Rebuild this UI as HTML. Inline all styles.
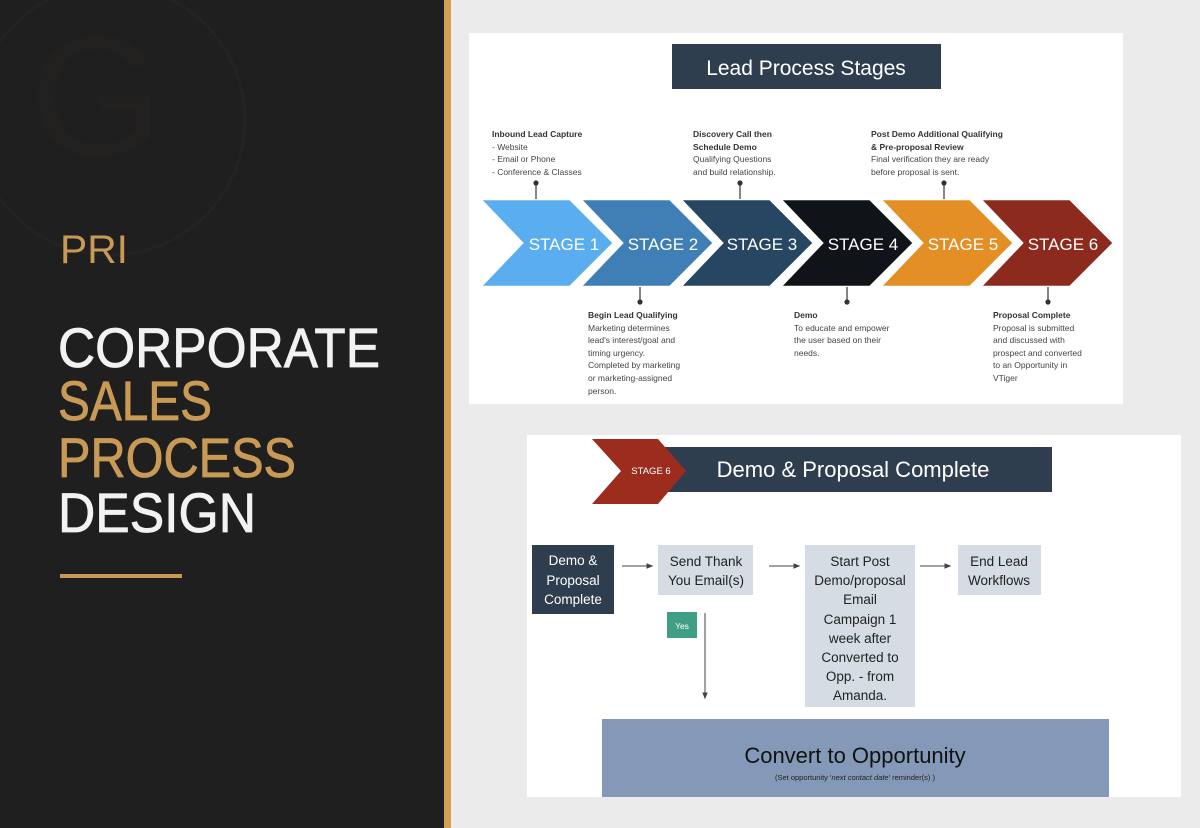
<!DOCTYPE html>
<html><head><meta charset="utf-8"><style>
html,body{margin:0;padding:0;width:1200px;height:828px;overflow:hidden;background:#ebebeb}
svg{display:block}
text{font-family:"Liberation Sans",sans-serif}
</style></head><body>
<svg width="1200" height="828" viewBox="0 0 1200 828" xmlns="http://www.w3.org/2000/svg">
<rect x="0" y="0" width="1200" height="828" fill="#ebebeb"/>
<rect x="0" y="0" width="444" height="828" fill="#1f1f1f"/>
<circle cx="110" cy="120" r="135" fill="none" stroke="#252321" stroke-width="3"/>
<text x="30" y="155" font-family="Liberation Serif" font-size="170" fill="#232120">G</text>
<rect x="444" y="0" width="7" height="828" fill="#d3a055"/>
<text x="60" y="263" font-size="40" fill="#c99a55" textLength="68" lengthAdjust="spacingAndGlyphs">PRI</text>
<g stroke-width="0.8">
<text x="58" y="367" font-size="56" fill="#f2f2f2" stroke="#f2f2f2" textLength="322" lengthAdjust="spacingAndGlyphs">CORPORATE</text>
<text x="58" y="420" font-size="56" fill="#c99a55" stroke="#c99a55" textLength="154" lengthAdjust="spacingAndGlyphs">SALES</text>
<text x="58" y="477" font-size="56" fill="#c99a55" stroke="#c99a55" textLength="238" lengthAdjust="spacingAndGlyphs">PROCESS</text>
<text x="58" y="532" font-size="56" fill="#f2f2f2" stroke="#f2f2f2" textLength="198" lengthAdjust="spacingAndGlyphs">DESIGN</text>
</g>
<rect x="60" y="574" width="122" height="4" fill="#c99a55"/>

<!-- top card -->
<rect x="469" y="33" width="654" height="371" fill="#fff"/>
<rect x="672" y="44" width="269" height="45" fill="#2f3e4f"/>
<text x="806" y="75" font-size="21" fill="#fff" text-anchor="middle">Lead Process Stages</text>
<g font-size="17" fill="#fff" text-anchor="middle">
<g stroke="#fff" stroke-width="2.5" stroke-linejoin="miter">
<polygon points="480,199 570,199 614,243 570,287 480,287 522,243" fill="#5aaef0"/>
<polygon points="580,199 670,199 714,243 670,287 580,287 622,243" fill="#3f7fb5"/>
<polygon points="680,199 770,199 814,243 770,287 680,287 722,243" fill="#264662"/>
<polygon points="780,199 870,199 914,243 870,287 780,287 822,243" fill="#101318"/>
<polygon points="880,199 970,199 1014,243 970,287 880,287 922,243" fill="#e48f26"/>
<polygon points="980,199 1070,199 1114,243 1070,287 980,287 1022,243" fill="#8c2a1e"/>
</g>
<text x="564" y="250">STAGE 1</text><text x="663" y="250">STAGE 2</text><text x="762" y="250">STAGE 3</text>
<text x="863" y="250">STAGE 4</text><text x="963" y="250">STAGE 5</text><text x="1063" y="250">STAGE 6</text>
</g>
<g stroke="#333" stroke-width="1.2" fill="#333">
<line x1="536" y1="183" x2="536" y2="199"/><circle cx="536" cy="183" r="2"/>
<line x1="740" y1="183" x2="740" y2="199"/><circle cx="740" cy="183" r="2"/>
<line x1="944" y1="183" x2="944" y2="199"/><circle cx="944" cy="183" r="2"/>
<line x1="640" y1="287" x2="640" y2="302"/><circle cx="640" cy="302" r="2"/>
<line x1="847" y1="287" x2="847" y2="302"/><circle cx="847" cy="302" r="2"/>
<line x1="1048" y1="287" x2="1048" y2="302"/><circle cx="1048" cy="302" r="2"/>
</g>
<g font-size="8.5" fill="#444">
<text x="492" y="137" font-weight="bold" fill="#333">Inbound Lead Capture</text>
<text x="492" y="150">-  Website</text><text x="492" y="162">-  Email or Phone</text><text x="492" y="175">-  Conference &amp; Classes</text>
<text x="693" y="137" font-weight="bold" fill="#333">Discovery Call then</text>
<text x="693" y="150" font-weight="bold" fill="#333">Schedule Demo</text>
<text x="693" y="162">Qualifying Questions</text><text x="693" y="175">and build relationship.</text>
<text x="871" y="137" font-weight="bold" fill="#333">Post Demo Additional Qualifying</text>
<text x="871" y="150" font-weight="bold" fill="#333">&amp; Pre-proposal Review</text>
<text x="871" y="162">Final verification they are ready</text><text x="871" y="175">before proposal is sent.</text>
<text x="588" y="318" font-weight="bold" fill="#333">Begin Lead Qualifying</text>
<text x="588" y="331">Marketing determines</text><text x="588" y="343">lead's interest/goal and</text>
<text x="588" y="356">timing urgency.</text><text x="588" y="368">Completed by marketing</text>
<text x="588" y="381">or marketing-assigned</text><text x="588" y="394">person.</text>
<text x="794" y="318" font-weight="bold" fill="#333">Demo</text>
<text x="794" y="331">To educate and empower</text><text x="794" y="343">the user based on their</text><text x="794" y="356">needs.</text>
<text x="993" y="318" font-weight="bold" fill="#333">Proposal Complete</text>
<text x="993" y="331">Proposal is submitted</text><text x="993" y="343">and discussed with</text>
<text x="993" y="356">prospect and converted</text><text x="993" y="368">to an Opportunity in</text><text x="993" y="381">VTiger</text>
</g>

<!-- bottom card -->
<rect x="527" y="435" width="654" height="362" fill="#fff"/>
<rect x="660" y="447" width="392" height="45" fill="#2f3e4f"/>
<polygon points="592,439 658,439 686,471 658,504 592,504 621,471" fill="#9b2c1e"/>
<text x="651" y="474" font-size="9.5" fill="#fff" text-anchor="middle">STAGE 6</text>
<text x="853" y="477" font-size="22" fill="#fff" text-anchor="middle">Demo &amp; Proposal Complete</text>

<rect x="532" y="545" width="82" height="69" fill="#2f3e4f"/>
<g font-size="13.5" text-anchor="middle" fill="#fff">
<text x="573" y="565">Demo &amp;</text><text x="573" y="585">Proposal</text><text x="573" y="604">Complete</text>
</g>
<rect x="658" y="545" width="95" height="50" fill="#d5dce4"/>
<rect x="805" y="545" width="110" height="162" fill="#d5dce4"/>
<rect x="958" y="545" width="83" height="50" fill="#d5dce4"/>
<g font-size="13.5" text-anchor="middle" fill="#222">
<text x="706" y="566">Send Thank</text><text x="706" y="585">You  Email(s)</text>
<text x="860" y="566">Start Post</text><text x="860" y="585">Demo/proposal</text><text x="860" y="604">Email</text>
<text x="860" y="624">Campaign 1</text><text x="860" y="643">week after</text><text x="860" y="662">Converted to</text>
<text x="860" y="681">Opp. - from</text><text x="860" y="700">Amanda.</text>
<text x="999" y="566">End Lead</text><text x="999" y="585">Workflows</text>
</g>
<g stroke="#444" stroke-width="1" fill="#444">
<line x1="622" y1="566" x2="650" y2="566"/><polygon points="652,566 647,564 647,568"/>
<line x1="769" y1="566" x2="797" y2="566"/><polygon points="799,566 794,564 794,568"/>
<line x1="920" y1="566" x2="948" y2="566"/><polygon points="950,566 945,564 945,568"/>
<line x1="705" y1="613" x2="705" y2="695"/><polygon points="705,698 703,693 707,693"/>
</g>
<rect x="667" y="612" width="30" height="26" fill="#3f9e85"/>
<text x="682" y="629" font-size="8.5" fill="#fff" text-anchor="middle">Yes</text>
<rect x="602" y="719" width="507" height="78" fill="#8399b7"/>
<text x="855" y="763" font-size="22" fill="#111" text-anchor="middle">Convert to Opportunity</text>
<text x="855" y="780" font-size="7.5" fill="#222" text-anchor="middle">(Set opportunity '<tspan font-style="italic">next contact date</tspan>' reminder(s) )</text>
</svg>
</body></html>
